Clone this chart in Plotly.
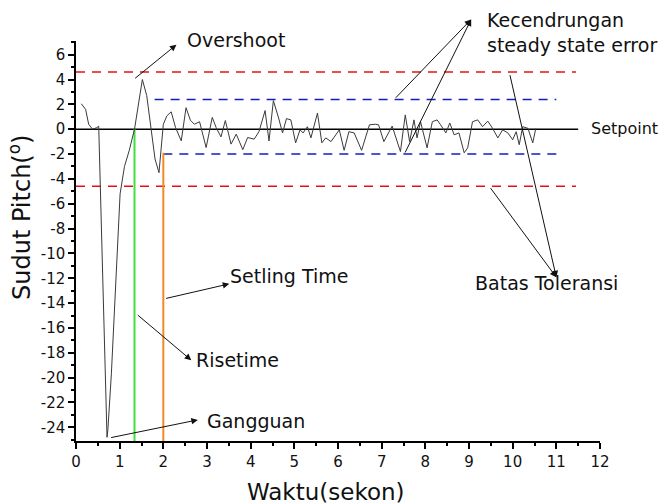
import plotly.graph_objects as go

# ---- data ----
time_s = [0.12, 0.22, 0.29, 0.38, 0.48, 0.52,
          0.71, 0.73, 0.81, 0.88, 0.96, 1.01, 1.11, 1.22,
          1.34, 1.52, 1.62, 1.72, 1.81, 1.90,
          2.0, 2.08, 2.18, 2.28, 2.41, 2.52, 2.62, 2.71, 2.83, 2.98,
          3.12, 3.21, 3.32, 3.42, 3.55, 3.67, 3.82, 3.93, 4.08, 4.19,
          4.33, 4.42, 4.52, 4.64, 4.73, 4.82, 4.92, 5.03, 5.13, 5.20,
          5.30, 5.38, 5.53, 5.63, 5.72, 5.84, 6.03, 6.14, 6.25, 6.37,
          6.54, 6.72, 6.86, 6.93, 7.05, 7.24, 7.43, 7.54, 7.64, 7.74,
          7.81, 7.89, 7.97, 8.04, 8.16, 8.27, 8.35, 8.47, 8.56, 8.66,
          8.77, 8.89, 8.97, 9.08, 9.20, 9.31, 9.43, 9.54, 9.66, 9.77,
          9.89, 10.0, 10.08, 10.15, 10.23, 10.35, 10.46, 10.53]
pitch_deg = [2.05, 1.6, 0.4, 0.0, 0.13, 0.25,
             -24.8, -24.2, -19.7, -14.3, -9.0, -5.2, -3.0, -1.7,
             0.0, 4.0, 2.7, 0.1, -2.4, -3.5,
             0.4, 1.07, 1.4, 0.13, -0.94, 1.73, 0.72, 0.4, 0.6, -1.48,
             0.95, 0.13, -0.62, 0.7, -1.2, -0.4, -1.65, -0.67, -0.8, -0.2,
             1.5, -0.95, 2.3, 0.9, -0.3, 0.85, 0.75, -1.1, -0.05, -0.3,
             0.2, -0.7, 1.3, -1.1, -0.7, -1.0, -0.05, -1.7, -0.2, -0.3,
             -1.7, 0.35, 0.4, 0.35, -1.0, 0.25, -1.8, 1.15, -1.0, 0.75,
             -0.7, 0.6, -0.6, -1.5, 0.6, 0.75, 0.35, -0.3, 0.5, -0.45,
             -0.3, -1.9, -1.5, 0.6, 0.75, 0.2, 0.65, 0.07, -0.7, -0.05,
             -0.3, -0.85, -0.2, -1.25, 0.2, 0.07, -1.1, 0.07]

setpoint_x = [0, 11.5]
setpoint_y = [0, 0]
tol_x = [0, 11.45]
tol_upper = 4.6
tol_lower = -4.6
sse_upper_x = [1.8, 11.0]
sse_upper = 2.4
sse_lower_x = [2.0, 11.1]
sse_lower = -2.0
rise_time = 1.34
settling_time = 2.0
y_bottom = -25.1
y_top = 7.1

x_ticks = list(range(0, 13))
y_ticks = list(range(-24, 7, 2))

FONT = "DejaVu Sans"
ML, MR, MT, MB = 76, 70, 41, 63
W, H = 670, 504
PW, PH = W - ML - MR, H - MT - MB

def px(xp):
    return (xp - ML) / PW

def py(yp):
    return 1 - (yp - MT) / PH

fig = go.Figure()

def line(x, y, color, width, dash="solid"):
    fig.add_trace(go.Scatter(x=x, y=y, mode="lines",
                             line=dict(color=color, width=width, dash=dash),
                             hoverinfo="skip", showlegend=False))

line(tol_x, [tol_upper, tol_upper], "#e8101c", 1.5, "9px,7px")
line(tol_x, [tol_lower, tol_lower], "#e8101c", 1.5, "9px,7px")
line(sse_upper_x, [sse_upper, sse_upper], "#1220b8", 1.5, "9px,7px")
line(sse_lower_x, [sse_lower, sse_lower], "#1220b8", 1.5, "9px,7px")
line(setpoint_x, setpoint_y, "black", 1.5)
line([rise_time, rise_time], [0, y_bottom], "#3fe03f", 2)
line([settling_time, settling_time], [-1.9, y_bottom], "#f0892c", 2)
line(time_s, pitch_deg, "#3a3a3a", 1)

# ---- text annotations (left edge / vertical centre in pixels) ----
texts = [
    ("Overshoot", 185, 40, 19),
    ("Kecendrungan<br>steady state error", 485, 33, 19),
    ("Setpoint", 589, 128, 16),
    ("Batas Toleransi", 473, 283, 19),
    ("Setling Time", 228, 276, 19),
    ("Risetime", 194, 360, 19),
    ("Gangguan", 205, 421, 19),
]
for txt, xp, yp, fs in texts:
    fig.add_annotation(text=txt, x=px(xp), y=py(yp), xref="paper", yref="paper",
                       xanchor="left", yanchor="middle", align="left",
                       showarrow=False,
                       font=dict(family=FONT, size=fs, color="#111"))

# arrows: (head_x, head_y, tail_x, tail_y) in data units
arrows = [
    (2.3, 6.8, 1.32, 4.0),
    (9.05, 8.84, 7.29, 2.41),
    (9.05, 8.84, 7.52, -2.0),
    (11.0, -11.92, 9.93, 4.47),
    (11.0, -11.92, 9.47, -4.63),
    (3.51, -12.45, 2.03, -13.65),
    (2.64, -18.6, 1.38, -14.86),
    (2.79, -23.4, 0.77, -24.85),
]
for hx, hy, tx, ty in arrows:
    fig.add_annotation(text="", x=hx, y=hy, xref="x", yref="y",
                       ax=tx, ay=ty, axref="x", ayref="y",
                       showarrow=True, arrowhead=2, arrowsize=1.3,
                       arrowwidth=1, arrowcolor="#111", standoff=0)

# axis titles
fig.add_annotation(text="Sudut Pitch(<sup>o</sup>)", x=px(20), y=py(218),
                   xref="paper", yref="paper", textangle=-90,
                   showarrow=False, xanchor="center", yanchor="middle",
                   font=dict(family=FONT, size=24, color="#111"))
fig.add_annotation(text="Waktu(sekon)", x=px(326), y=py(492),
                   xref="paper", yref="paper",
                   showarrow=False, xanchor="center", yanchor="middle",
                   font=dict(family=FONT, size=23, color="#111"))

fig.update_xaxes(range=[0, 12], tickvals=x_ticks,
                 ticktext=[str(v) for v in x_ticks],
                 showline=True, linecolor="black", linewidth=1.5,
                 ticks="outside", ticklen=6, tickwidth=1.5, tickcolor="black",
                 minor=dict(dtick=0.5, tick0=0, ticks="outside", ticklen=3,
                            tickwidth=1.5, tickcolor="black"),
                 showgrid=False, zeroline=False,
                 tickfont=dict(family=FONT, size=15, color="#111"))
fig.update_yaxes(range=[y_bottom, y_top], tickvals=y_ticks,
                 ticktext=[str(v) for v in y_ticks],
                 showline=True, linecolor="black", linewidth=1.5,
                 ticks="outside", ticklen=6, tickwidth=1.5, tickcolor="black",
                 minor=dict(dtick=1, tick0=0, ticks="outside", ticklen=3,
                            tickwidth=1.5, tickcolor="black"),
                 showgrid=False, zeroline=False,
                 tickfont=dict(family=FONT, size=15, color="#111"))

fig.update_layout(width=W, height=H,
                  margin=dict(l=ML, r=MR, t=MT, b=MB, autoexpand=False),
                  plot_bgcolor="white", paper_bgcolor="white",
                  showlegend=False)

fig.write_html("out.html",
               config={"displayModeBar": False},
               post_script="document.body.style.margin='0';"
                           "document.body.style.overflow='hidden';")
